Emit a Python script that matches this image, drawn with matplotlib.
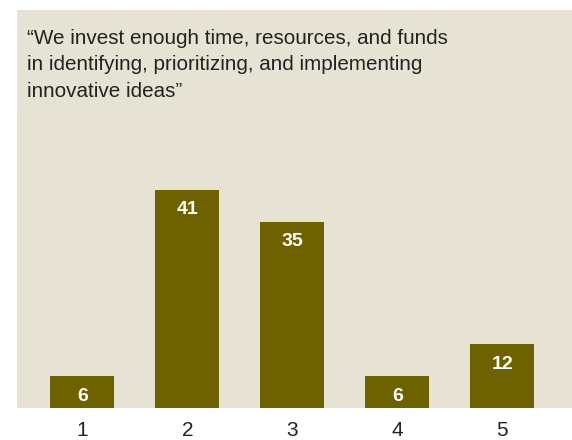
import matplotlib
matplotlib.use("Agg")
import matplotlib.pyplot as plt

# Survey answers, score 1-5 (% of respondents)
scores = [1, 2, 3, 4, 5]
shares = [6, 41, 35, 6, 12]
title = ("\u201cWe invest enough time, resources, and funds\n"
         "in identifying, prioritizing, and implementing\n"
         "innovative ideas\u201d")

bg = "#e6e3d4"
bar_color = "#6e6100"

plt.rcParams["font.family"] = ["Liberation Sans", "DejaVu Sans"]

fig = plt.figure(figsize=(5.72, 4.40), dpi=100)
fig.patch.set_facecolor("white")

# axes cover the beige panel
ax = fig.add_axes([17 / 572, 32 / 440, 1 - 17 / 572, 398 / 440])
ax.set_facecolor(bg)
ax.bar(scores, shares, width=0.61, color=bar_color, zorder=2)
ax.set_xlim(0.376, 5.666)
ax.set_ylim(0, 74.8)

for x, v in zip(scores, shares):
    ax.annotate(str(v), (x, v), xytext=(0, -20), textcoords="offset pixels",
                ha="center", va="center", color="white", fontsize=14,
                fontweight="bold")

ax.set_xticks(scores)
ax.set_xticklabels([str(s) for s in scores], fontsize=15, color="#222222")
ax.tick_params(axis="x", length=0, pad=9)
ax.set_yticks([])
for s in ax.spines.values():
    s.set_visible(False)

fig.text(27 / 572, 1 - 29 / 440, title, ha="left", va="top", fontsize=14.9,
         color="#222222", linespacing=1.5)

fig.savefig("out.png", dpi=100)
